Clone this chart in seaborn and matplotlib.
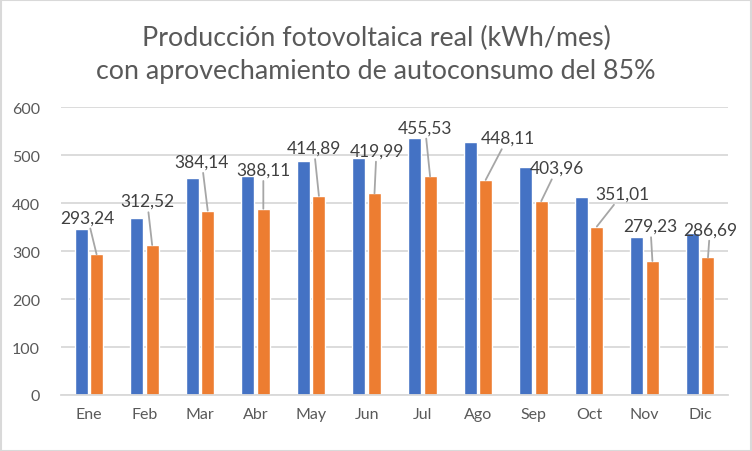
import matplotlib
matplotlib.use('Agg')
import matplotlib.pyplot as plt
import seaborn as sns
import pandas as pd
from matplotlib.patches import Rectangle

# DATA
meses = ["Ene", "Feb", "Mar", "Abr", "May", "Jun", "Jul", "Ago", "Sep", "Oct", "Nov", "Dic"]
produccion = [345, 368, 452, 457, 488, 494, 536, 527, 475, 413, 329, 337]
autoconsumo = [293.24, 312.52, 384.14, 388.11, 414.89, 419.99, 455.53, 448.11, 403.96, 351.01, 279.23, 286.69]
y_ticks = [0, 100, 200, 300, 400, 500, 600]

# label offsets (pixels) from top of orange bar
label_dx = [-9, -5, -6, 0, -5, 2, -5, 22, 16, 26, -2, 2]
label_dy = [37, 44, 49, 39, 48, 43, 49, 42, 33, 33, 35, 28]

BLUE = "#4472C4"
ORANGE = "#ED7D31"
GRAY_TXT = "#595959"
GRID = "#d9d9d9"

df = pd.DataFrame({
    "mes": meses * 2,
    "valor": produccion + autoconsumo,
    "serie": ["Producción"] * 12 + ["Autoconsumo 85%"] * 12,
})

sns.set_style("white")
plt.rcParams['font.family'] = ['Lato', 'DejaVu Sans']

fig = plt.figure(figsize=(7.52, 4.52), dpi=100)
ax = fig.add_axes([61 / 752, 1 - 396 / 452, 667 / 752, 288 / 452])

sns.barplot(data=df, x="mes", y="valor", hue="serie", palette=[BLUE, ORANGE],
            width=0.56, gap=0.165, legend=False, ax=ax, saturation=1)

ax.set_ylim(0, 600)
ax.set_xlim(-0.5, 11.5)
ax.set_yticks(y_ticks)
ax.set_yticklabels([str(t) for t in y_ticks])
ax.yaxis.grid(True, color=GRID, linewidth=1.3)
ax.set_axisbelow(True)
for s in ["top", "right", "left"]:
    ax.spines[s].set_visible(False)
ax.spines["bottom"].set_color(GRID)
ax.spines["bottom"].set_linewidth(1.3)
ax.tick_params(axis="both", length=0, labelsize=11.5, labelcolor=GRAY_TXT)
ax.tick_params(axis="y", pad=15)
ax.tick_params(axis="x", pad=9)
ax.set_xlabel("")
ax.set_ylabel("")

# data labels with leader lines
for i, v in enumerate(autoconsumo):
    ax.annotate(f"{v:.2f}".replace(".", ","), xy=(i + 0.14, v),
                xytext=(label_dx[i], label_dy[i]), textcoords="offset pixels",
                ha="center", va="center", fontsize=12.5, color="#404040",
                arrowprops=dict(arrowstyle="-", color="#a6a6a6", lw=1.3,
                                shrinkA=0, shrinkB=0))

fig.text(0.5, 1 - 55 / 452, "Producción fotovoltaica real (kWh/mes)\ncon aprovechamiento de autoconsumo del 85%",
         ha="center", va="center", fontsize=19.3, color=GRAY_TXT, linespacing=1.42)

fig.patches.append(Rectangle((0.5 / 752, 0.5 / 452), 750.5 / 752, 450.5 / 452,
                             transform=fig.transFigure, fill=False,
                             edgecolor=GRID, linewidth=1.5))

fig.savefig("out.png", dpi=100)
